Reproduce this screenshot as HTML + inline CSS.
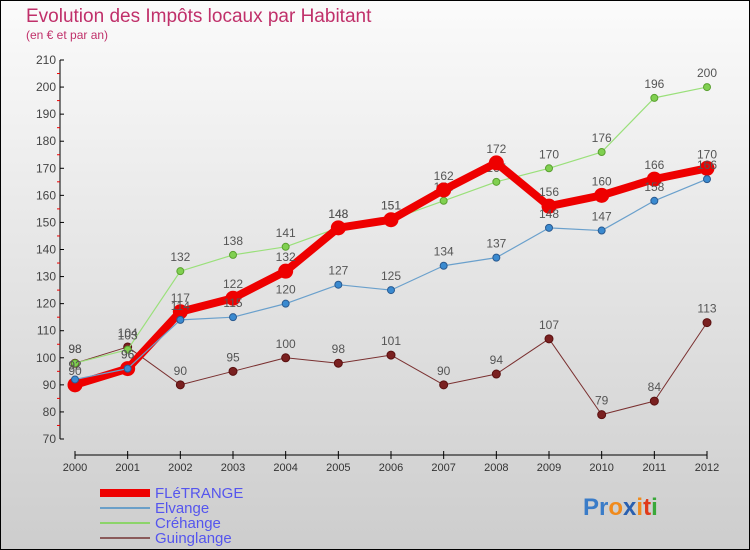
<!DOCTYPE html>
<html><head><meta charset="utf-8"><style>
body{margin:0;width:750px;height:550px;overflow:hidden}
svg{display:block;font-family:"Liberation Sans",sans-serif}
</style></head><body>
<svg id="c" width="750" height="550">
<defs><linearGradient id="bg" x1="0" y1="0" x2="0" y2="1"><stop offset="0" stop-color="#fbfbfb"/><stop offset="1" stop-color="#cdcdcd"/></linearGradient></defs>
<rect x="0.5" y="0.5" width="749" height="549" fill="url(#bg)" stroke="#000"/>
<text x="26" y="22" font-size="19" fill="#c0306a">Evolution des Impôts locaux par Habitant</text>
<text x="26" y="39" font-size="12" fill="#c0306a">(en € et par an)</text>
<g id="axes"></g><g id="series"></g>
<g>
<rect x="100" y="489" width="50" height="8" fill="#e00"/>
<line x1="100" y1="508" x2="150" y2="508" stroke="#6a9fc8" stroke-width="2"/>
<line x1="100" y1="523" x2="150" y2="523" stroke="#8cd46a" stroke-width="2"/>
<line x1="100" y1="538" x2="150" y2="538" stroke="#8a5a5a" stroke-width="2"/>
<g font-size="15" fill="#5555ee">
<text x="155" y="498">FLéTRANGE</text>
<text x="155" y="513">Elvange</text>
<text x="155" y="528">Créhange</text>
<text x="155" y="543">Guinglange</text>
</g></g>
<g font-size="24" font-weight="bold">
<text x="583" y="515"><tspan fill="#3a7cc8">Pr</tspan><tspan fill="#f08a1c">o</tspan><tspan fill="#2a60b0">x</tspan><tspan fill="#f08a1c">i</tspan><tspan fill="#e03a1a">t</tspan><tspan fill="#3aa83a">i</tspan></text></g>
</svg>
<script>
const years=[2000,2001,2002,2003,2004,2005,2006,2007,2008,2009,2010,2011,2012];
const fletrange=[90,96,117,122,132,148,151,162,172,156,160,166,170];
const elvange=[92,96,114,115,120,127,125,134,137,148,147,158,166];
const crehange=[98,103,132,138,141,148,151,158,165,170,176,196,200];
const guinglange=[98,104,90,95,100,98,101,90,94,107,79,84,113];
const yTicks=[70,80,90,100,110,120,130,140,150,160,170,180,190,200,210];
const NS="http://www.w3.org/2000/svg";
const X=i=>75+i*(707-75)/(years.length-1);
const Y=v=>439-(v-70)*(439-60)/140;
function mk(t,a,p){const e=document.createElementNS(NS,t);for(const k in a)e.setAttribute(k,a[k]);p.appendChild(e);return e;}
const ax=document.getElementById('axes');
const ya=mk('line',{x1:60,y1:60,x2:60,y2:439,stroke:'#000'},ax);


yTicks.forEach((v,i)=>{
 mk('line',{x1:60,x2:64,y1:Y(v),y2:Y(v),stroke:'#000'},ax);
 if(i<yTicks.length-1)mk('line',{x1:57,x2:60,y1:Y(v+5),y2:Y(v+5),stroke:'#e00'},ax);
 const t=mk('text',{x:56,y:Y(v)+4,'text-anchor':'end','font-size':12,fill:'#444'},ax);t.textContent=v;
 
 
});
const xa=mk('line',{x1:75,y1:455,x2:707,y2:455,stroke:'#000'},ax);


years.forEach((y,i)=>{
 mk('line',{x1:X(i),x2:X(i),y1:451,y2:459,stroke:'#000'},ax);
 const t=mk('text',{x:X(i),y:471,'text-anchor':'middle','font-size':11,fill:'#333'},ax);t.textContent=y;
 
 
});
const sg=document.getElementById('series');
function draw(data,name,color,w,r,mf,ms){
 const g=mk('g',{},sg);
 
 
 const l=mk('polyline',{points:data.map((v,i)=>X(i)+','+Y(v)).join(' '),fill:'none',stroke:color,'stroke-width':w,'stroke-linejoin':'round'},g);
 
 
 data.forEach((v,i)=>{
  const c=mk('circle',{cx:X(i),cy:Y(v),r:r,fill:mf,stroke:ms,'stroke-width':1},g);
  
  
  const t=mk('text',{x:X(i),y:Y(v)-10,'text-anchor':'middle','font-size':12,fill:'#555'},g);t.textContent=v;
  
  
 });
}
draw(guinglange,'guinglange','#7a3030',1,4,'#7a2020','#5a1010');
draw(crehange,'crehange','#9ae07a',1.2,3.5,'#80d050','#5aa030');
draw(fletrange,'fletrange','#ee0000',8,7,'#ee0000','#ee0000');
draw(elvange,'elvange','#6aa0cc',1.2,3.5,'#3a8ad0','#2a5a90');
</script>
</body></html>
